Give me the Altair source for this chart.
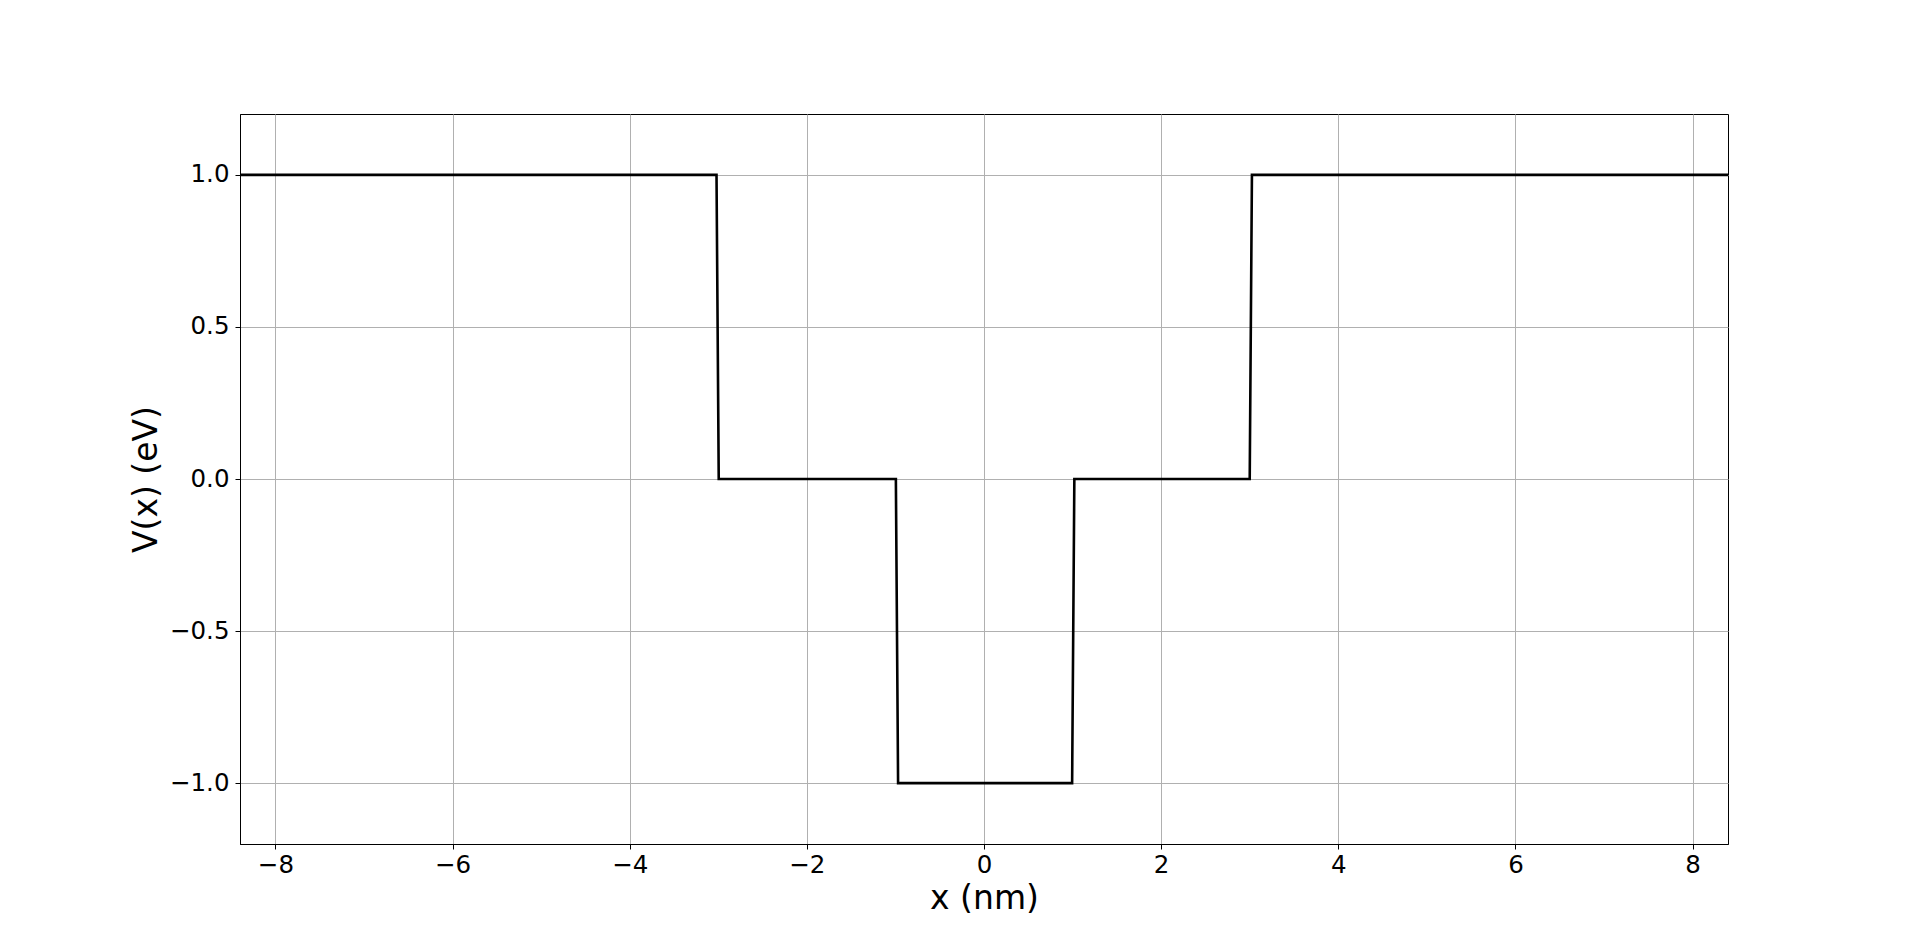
import altair as alt
import pandas as pd

# Potential profile V(x) corner points (nm, eV)
x_nm = [-8.4, -3.02, -2.995, -0.995, -0.97, 0.995, 1.02, 3.0, 3.025, 8.4]
v_ev = [1.0, 1.0, 0.0, 0.0, -1.0, -1.0, 0.0, 0.0, 1.0, 1.0]

x_ticks = [-8, -6, -4, -2, 0, 2, 4, 6, 8]
y_ticks = [-1.0, -0.5, 0.0, 0.5, 1.0]

df = pd.DataFrame({"x": x_nm, "V": v_ev, "order": list(range(len(x_nm)))})

FONT = "DejaVu Sans"

chart = alt.Chart(df).mark_line(color="black", strokeWidth=2.6, clip=True).encode(
    x=alt.X(
        "x:Q",
        scale=alt.Scale(domain=[-8.4, 8.4], nice=False, zero=False),
        axis=alt.Axis(
            values=x_ticks,
            title="x (nm)",
            labelExpr="replace(format(datum.value, 'd'), '-', '\u2212')",
            titleY=54,
            titleBaseline="middle",
            titleFontSize=33,
            titleFontWeight="normal",
            labelFontSize=24.5,
            labelPadding=4,
            tickSize=5,
        ),
    ),
    y=alt.Y(
        "V:Q",
        scale=alt.Scale(domain=[-1.2, 1.2], nice=False, zero=False),
        axis=alt.Axis(
            values=y_ticks,
            title="V(x) (eV)",
            labelExpr="replace(format(datum.value, '.1f'), '-', '\u2212')",
            titleX=-94,
            titleY=365,
            titleAngle=-90,
            titleAlign="center",
            titleBaseline="middle",
            titleFontSize=33,
            titleFontWeight="normal",
            labelFontSize=24.5,
            labelPadding=6,
            tickSize=5,
        ),
    ),
    order="order:Q",
).properties(
    width=1488,
    height=730,
    autosize=alt.AutoSizeParams(type="none"),
    padding={"left": 232, "top": 106, "right": 184, "bottom": 90},
).configure_view(
    stroke="black", strokeWidth=1
).configure_axis(
    labelFont=FONT,
    titleFont=FONT,
    labelColor="black",
    titleColor="black",
    tickColor="black",
    domainColor="black",
    domainWidth=1,
    tickWidth=1,
    gridColor="#b0b0b0",
    gridWidth=1,
    gridOpacity=1,
    grid=True,
)

chart.save("out.html", embed_options={"renderer": "svg", "actions": False})
